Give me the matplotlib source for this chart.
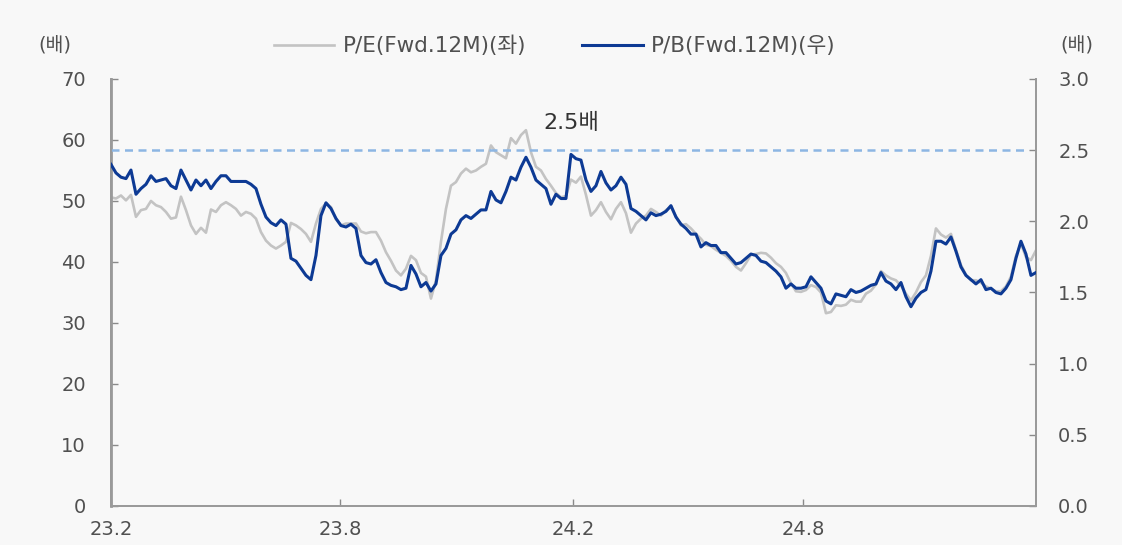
import numpy as np
import pandas as pd
import matplotlib
matplotlib.use('Agg')
import matplotlib.pyplot as plt
import matplotlib.dates as mdates
from matplotlib.ticker import FixedLocator, FuncFormatter

plt.rcParams['font.family'] = ['DejaVu Sans', 'Noto Sans CJK KR']

# ---------------------------------------------------------------------------
# Data (~4-day spacing from 2023-02 to 2025-02)
# ---------------------------------------------------------------------------
START, END = '2023-02-01', '2025-02-01'

PE_FWD = [
    50.6, 50.4, 50.9, 50.1, 51.0, 47.4, 48.5, 48.7, 50.0, 49.3,
    49.0, 48.2, 47.1, 47.3, 50.7, 48.5, 46.0, 44.6, 45.6, 44.8,
    48.6, 48.2, 49.3, 49.8, 49.3, 48.7, 47.6, 48.2, 47.9, 47.1,
    44.9, 43.5, 42.7, 42.2, 42.7, 43.3, 46.4, 46.0, 45.4, 44.6,
    43.3, 46.3, 48.7, 49.6, 49.0, 47.0, 46.0,
    46.3, 46.3, 46.3, 45.0, 44.7, 44.9, 44.9, 43.5, 41.6, 40.2,
    38.6, 37.8, 38.9, 41.0, 40.3, 38.2, 37.6, 34.0, 37.0, 43.3,
    48.7, 52.5, 53.1, 54.5, 55.3, 54.7, 55.0, 55.6, 56.1, 59.1,
    58.0, 57.5, 57.0, 60.3, 59.4, 60.8, 61.6, 58.0, 55.6, 55.0,
    53.6, 52.5, 51.3, 50.6, 50.8, 53.5, 53.0,
    54.0, 51.0, 47.6, 48.5, 49.8, 48.2, 47.0, 48.7, 49.8, 48.0,
    44.8, 46.3, 47.1, 47.6, 48.7, 48.2, 47.6, 48.5, 49.0, 47.5,
    46.0, 46.2, 45.5, 44.6, 43.8, 42.8, 42.6, 42.0, 41.5, 41.0,
    40.2, 39.2, 38.6, 39.8, 41.2, 41.3, 41.5, 41.4, 40.7, 39.8,
    39.2, 38.2, 36.5, 35.2, 35.1, 35.4,
    36.2, 35.9, 35.0, 31.6, 31.8, 32.9, 32.8, 33.0, 33.8, 33.5,
    33.5, 34.8, 35.3, 36.3, 38.5, 37.8, 37.3, 37.0, 36.1, 34.8,
    33.7, 35.0, 36.7, 37.8, 41.0, 45.5, 44.5, 44.0, 44.6, 42.0,
    39.5, 37.9, 37.0, 37.0, 36.6, 36.0, 35.6, 35.2, 35.2, 36.0,
    37.6, 41.0, 43.0, 40.8, 40.3, 41.9,
]

PB_FWD = [
    2.40, 2.34, 2.31, 2.30, 2.36, 2.19, 2.23, 2.26, 2.32, 2.28,
    2.29, 2.30, 2.25, 2.23, 2.36, 2.29, 2.22, 2.29, 2.25, 2.29,
    2.23, 2.28, 2.32, 2.32, 2.28, 2.28, 2.28, 2.28, 2.26, 2.23,
    2.12, 2.03, 1.99, 1.97, 2.01, 1.98, 1.74, 1.72, 1.67, 1.62,
    1.59, 1.76, 2.04, 2.13, 2.09, 2.02, 1.97,
    1.96, 1.98, 1.95, 1.76, 1.71, 1.70, 1.73, 1.64, 1.57, 1.55,
    1.54, 1.52, 1.53, 1.69, 1.63, 1.54, 1.57, 1.51, 1.56, 1.76,
    1.81, 1.91, 1.94, 2.01, 2.04, 2.02, 2.05, 2.08, 2.08, 2.21,
    2.15, 2.13, 2.21, 2.31, 2.29, 2.38, 2.45, 2.38, 2.29, 2.26,
    2.23, 2.12, 2.19, 2.16, 2.16, 2.47, 2.44,
    2.43, 2.29, 2.21, 2.25, 2.35, 2.27, 2.22, 2.25, 2.31, 2.26,
    2.09, 2.07, 2.04, 2.01, 2.06, 2.04, 2.05, 2.07, 2.11, 2.03,
    1.98, 1.95, 1.91, 1.91, 1.82, 1.85, 1.83, 1.83, 1.78, 1.78,
    1.74, 1.70, 1.71, 1.74, 1.77, 1.76, 1.72, 1.71, 1.68, 1.65,
    1.61, 1.53, 1.56, 1.53, 1.53, 1.54,
    1.61, 1.57, 1.53, 1.44, 1.42, 1.49, 1.48, 1.47, 1.52, 1.50,
    1.51, 1.53, 1.55, 1.56, 1.64, 1.58, 1.56, 1.52, 1.57, 1.47,
    1.40, 1.46, 1.50, 1.52, 1.65, 1.86, 1.86, 1.84, 1.89, 1.79,
    1.68, 1.62, 1.59, 1.56, 1.59, 1.52, 1.53, 1.50, 1.49, 1.53,
    1.59, 1.74, 1.86, 1.77, 1.62, 1.64,
]

PB_LEVEL = 2.5
X_TICKS = ['2023-02-01', '2023-08-01', '2024-02-01', '2024-08-01']

COLOR_PE = '#c3c3c3'
COLOR_PB = '#0d3a94'
COLOR_LEVEL = '#8db6e3'
TEXT_COLOR = '#505050'

dates = pd.date_range(START, END, periods=len(PE_FWD))

# ---------------------------------------------------------------------------
# Plot
# ---------------------------------------------------------------------------
fig = plt.figure(figsize=(11.22, 5.45), dpi=100, facecolor='#f8f8f8')
ax = fig.add_axes([0.0989, 0.0716, 0.8244, 0.7835])
ax.set_facecolor('#f8f8f8')
ax2 = ax.twinx()

ax.plot(dates, PE_FWD, color=COLOR_PE, lw=1.9, label='P/E(Fwd.12M)(좌)', zorder=2)
ax2.plot(dates, PB_FWD, color=COLOR_PB, lw=2.2, label='P/B(Fwd.12M)(우)', zorder=3)
ax2.axhline(PB_LEVEL, xmin=0, xmax=0.99, color=COLOR_LEVEL, lw=1.8,
            dashes=(3.2, 2.2), zorder=1)
ax2.text(pd.Timestamp('2024-01-31'), PB_LEVEL + 0.19, f'{PB_LEVEL}배',
         ha='center', va='center', fontsize=16, color='#333333')

ax.set_xlim(pd.Timestamp(START), pd.Timestamp(END))
ax.set_ylim(0, 70)
ax2.set_ylim(0, 3.0)
ax.set_yticks(np.arange(0, 71, 10))
ax2.set_yticks(np.arange(0, 3.01, 0.5))
ax2.yaxis.set_major_formatter(FuncFormatter(lambda v, _: f'{v:.1f}'))

tick_dates = [pd.Timestamp(d) for d in X_TICKS]
ax.xaxis.set_major_locator(FixedLocator(mdates.date2num(tick_dates)))
ax.xaxis.set_major_formatter(
    FuncFormatter(lambda v, _: mdates.num2date(v).strftime('%y.') + str(mdates.num2date(v).month)))

for a in (ax, ax2):
    a.spines['top'].set_visible(False)
    for s in ('left', 'right', 'bottom'):
        a.spines[s].set_color('#9a9a9a')
        a.spines[s].set_linewidth(1.3)
ax.spines['left'].set_linewidth(2.0)

ax.tick_params(axis='y', direction='in', length=5, width=1, color='#8a8a8a',
               labelsize=14, labelcolor=TEXT_COLOR, pad=18)
ax2.tick_params(axis='y', direction='in', length=5, width=1, color='#8a8a8a',
                labelsize=14, labelcolor=TEXT_COLOR, pad=16)
ax.tick_params(axis='x', direction='in', length=5, width=1, color='#8a8a8a',
               labelsize=14, labelcolor=TEXT_COLOR, pad=10)

fig.text(55 / 1122, 1 - 45 / 545, '(배)', ha='center', va='center',
         fontsize=14, color=TEXT_COLOR)
fig.text(1077 / 1122, 1 - 45 / 545, '(배)', ha='center', va='center',
         fontsize=14, color=TEXT_COLOR)

h1, l1 = ax.get_legend_handles_labels()
h2, l2 = ax2.get_legend_handles_labels()
ax2.legend(h1 + h2, l1 + l2, loc='center', bbox_to_anchor=(0.48, 1.077),
           ncol=2, frameon=False, fontsize=15.5, handlelength=2.8,
           handletextpad=0.4, columnspacing=2.6, labelcolor=TEXT_COLOR)

fig.savefig('out.png', dpi=100, facecolor=fig.get_facecolor())
